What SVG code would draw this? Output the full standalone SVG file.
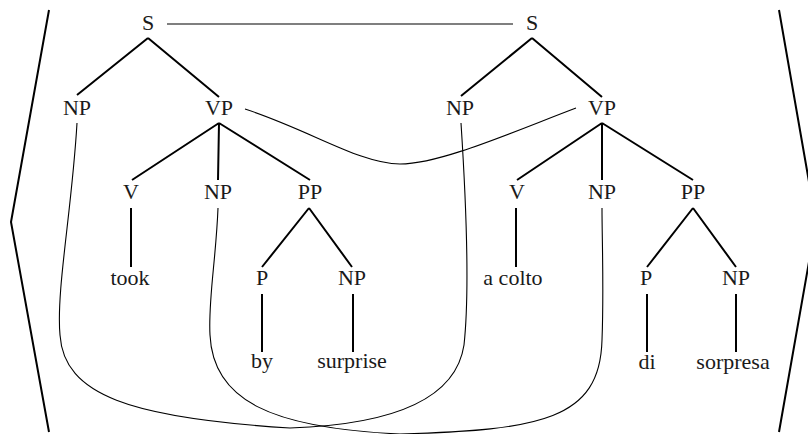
<svg xmlns="http://www.w3.org/2000/svg" width="808" height="434" viewBox="0 0 808 434">
<style>
text{font-family:'Liberation Serif','DejaVu Serif','Nimbus Roman','Nimbus Roman No9 L','FreeSerif','Times New Roman',Times,Georgia,serif;font-size:22px;fill:#1a1a1a;text-anchor:middle}
.e{stroke:#000;stroke-width:2;fill:none;stroke-linecap:butt}
.c{stroke:#000;stroke-width:1.1;fill:none}
.b{stroke:#000;stroke-width:2;fill:none}
</style>
<rect width="808" height="434" fill="#fff"/>
<g id="brackets">
<polyline class="b" points="49,10 11,222 49,432"/>
<polyline class="b" points="779,10 816,222 779,432"/>
</g>
<g id="tree-edges">
<path class="e" d="M148,38 L77,95 M148,38 L219,97 M219,123 L132,180 M219,123 L218,180 M219,123 L310,180 M131,208 L131,267 M309,208 L262,267 M309,208 L352,267 M262,294 L262,352 M353,294 L353,352"/>
<path class="e" d="M532,38 L461,96 M532,38 L602,97 M602,123 L517,180 M602,123 L602,180 M602,123 L693,180 M516,208 L516,267 M693,208 L647,267 M693,208 L736,267 M647,294 L647,352 M736,294 L736,352"/>
</g>
<g id="connectors">
<path class="c" d="M167,24 L513,24"/>
<path class="c" d="M245,109 C310,130 360,164 400,164 C440,164 510,133 576,108"/>
<path class="c" d="M77,123 C72,210 56,290 60,335 C64,395 130,418 290,428 C380,425 455,405 464,345 C470,290 466,200 461,123"/>
<path class="c" d="M218,208 C216,260 208,300 210,335 C213,400 270,428 400,434 C540,430 600,420 602,340 C604,290 602,240 602,208"/>
</g>
<g id="n-S1"><text x="148" y="30">S</text></g>
<g id="n-NP1"><text x="77" y="115">NP</text></g>
<g id="n-VP1"><text x="219" y="115">VP</text></g>
<g id="n-V1"><text x="131" y="199">V</text></g>
<g id="n-NP1b"><text x="218" y="199">NP</text></g>
<g id="n-PP1"><text x="310" y="199">PP</text></g>
<g id="n-took"><text x="130" y="285">took</text></g>
<g id="n-P1"><text x="262" y="285">P</text></g>
<g id="n-NP1c"><text x="352" y="285">NP</text></g>
<g id="n-by"><text x="262" y="368">by</text></g>
<g id="n-surprise"><text x="352" y="368">surprise</text></g>
<g id="n-S2"><text x="532" y="30">S</text></g>
<g id="n-NP2"><text x="460" y="115">NP</text></g>
<g id="n-VP2"><text x="602" y="115">VP</text></g>
<g id="n-V2"><text x="517" y="199">V</text></g>
<g id="n-NP2b"><text x="602" y="199">NP</text></g>
<g id="n-PP2"><text x="693" y="199">PP</text></g>
<g id="n-acolto"><text x="513" y="285">a colto</text></g>
<g id="n-P2"><text x="646" y="285">P</text></g>
<g id="n-NP2c"><text x="736" y="285">NP</text></g>
<g id="n-di"><text x="647" y="369">di</text></g>
<g id="n-sorpresa"><text x="733" y="369">sorpresa</text></g>
</svg>
